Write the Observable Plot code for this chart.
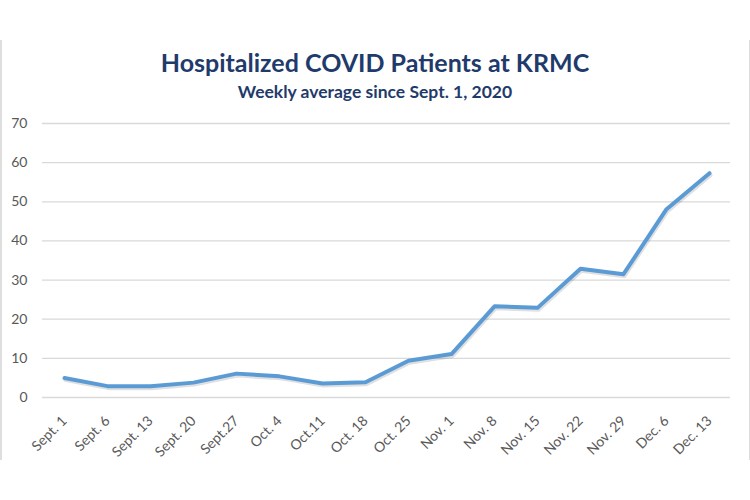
<!DOCTYPE html>
<html>
<head>
<meta charset="utf-8">
<script src="https://cdn.jsdelivr.net/npm/d3@7"></script>
<script src="https://cdn.jsdelivr.net/npm/@observablehq/plot@0.6"></script>
<style>
  html, body { margin: 0; padding: 0; background: #fff; }
  #wrap { position: relative; width: 750px; height: 500px; overflow: hidden; font-family: Lato, "Open Sans", sans-serif; }
  #frame { position: absolute; left: 0; top: 40px; width: 747px; height: 420px; border-left: 2px solid #dedede; border-right: 2px solid #dedede; pointer-events: none; }
  #head { position: relative; height: 110px; text-align: center; color: #1f3b6b; }
  #title { position: absolute; left: 0; right: 0; top: 47px; font-size: 25px; font-weight: bold; line-height: 30px; }
  #subtitle { position: absolute; left: 0; right: 0; top: 82px; font-size: 17.5px; font-weight: bold; line-height: 20px; }
  #chart svg { display: block; }
</style>
</head>
<body>
<div id="wrap">
  <div id="frame"></div>
  <div id="head">
    <div id="title">Hospitalized COVID Patients at KRMC</div>
    <div id="subtitle">Weekly average since Sept. 1, 2020</div>
  </div>
  <div id="chart"></div>
</div>
<script>
const weeks = ["Sept. 1","Sept. 6","Sept. 13","Sept. 20","Sept.27","Oct. 4","Oct.11","Oct. 18","Oct. 25","Nov. 1","Nov. 8","Nov. 15","Nov. 22","Nov. 29","Dec. 6","Dec. 13"];
const patients = [5.0, 2.9, 2.9, 3.8, 6.1, 5.4, 3.6, 3.9, 9.4, 11.1, 23.3, 22.9, 32.9, 31.5, 48.1, 57.3];
const yTicks = [0, 10, 20, 30, 40, 50, 60, 70];

const data = weeks.map((w, i) => ({week: w, value: patients[i]}));

const chart = Plot.plot({
  width: 750,
  height: 350,
  marginTop: 13,
  marginBottom: 63,
  marginLeft: 42,
  marginRight: 20,
  style: {fontFamily: "Lato, 'Open Sans', sans-serif", color: "#595959", background: "transparent"},
  x: {type: "point", domain: weeks, padding: 0.5},
  y: {domain: [0, 70]},
  marks: [
    Plot.ruleY(yTicks, {stroke: "#d9d9d9", strokeWidth: 1.3}),
    Plot.axisY({ticks: yTicks, tickSize: 0, tickPadding: 15, fontSize: 14, label: null}),
    Plot.axisX({tickSize: 0, tickPadding: 21, tickRotate: -45, fontSize: 14, label: null}),
    Plot.line(data, {x: "week", y: "value", stroke: "#000", strokeOpacity: 0.12, strokeWidth: 4, dx: 1, dy: 2, strokeLinejoin: "round"}),
    Plot.line(data, {x: "week", y: "value", stroke: "#5b9bd5", strokeWidth: 4, strokeLinejoin: "round", strokeLinecap: "round"})
  ]
});
document.getElementById("chart").appendChild(chart);
</script>
</body>
</html>
